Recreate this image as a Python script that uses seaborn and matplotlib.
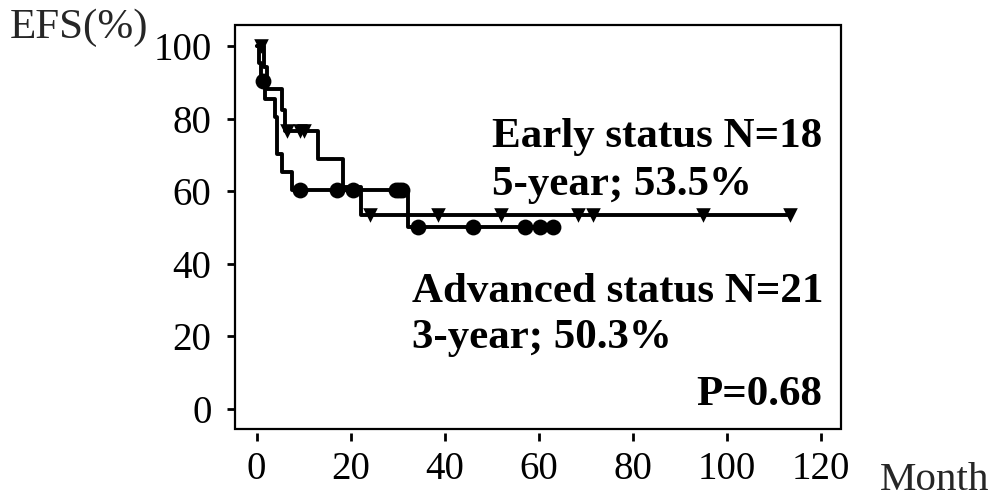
import numpy as np
import pandas as pd
import matplotlib
matplotlib.use("Agg")
import matplotlib.pyplot as plt
import seaborn as sns
from matplotlib.patches import Rectangle

# Follow-up in months: events (relapse/death) and censored observations
early_event_months = [1.5, 2.2, 5.4, 6.0, 13.0, 18.4, 22.3]
early_censor_months = [1.0, 6.5, 9.3, 10.0, 24.2, 38.5, 52.0, 68.3, 71.5, 95.0, 113.5]
adv_event_months = [0.5, 1.0, 1.8, 3.9, 4.3, 4.3, 5.4, 7.5, 32.2]
adv_censor_months = [1.3, 9.3, 17.0, 20.5, 29.6, 30.3, 31.0, 34.3, 46.1, 57.1, 60.3, 63.1]

x_ticks = [0, 20, 40, 60, 80, 100, 120]
y_ticks = [0, 20, 40, 60, 80, 100]

labels_early = ["Early status N=18", "5-year; 53.5%"]
labels_adv = ["Advanced status N=21", "3-year; 50.3%"]
p_label = "P=0.68"


def kaplan_meier(events, censors):
    """Return step-curve (time, survival %) and censor-mark positions."""
    events = np.asarray(events, float)
    censors = np.asarray(censors, float)
    times = np.unique(events)
    n_at_risk = len(events) + len(censors)
    surv = 1.0
    t_curve, s_curve = [0.0], [100.0]
    prev = 0.0
    for t in times:
        # subjects censored before this event leave the risk set
        n_at_risk -= np.sum((censors >= prev) & (censors < t))
        d = np.sum(events == t)
        surv *= (n_at_risk - d) / n_at_risk
        n_at_risk -= d
        prev = t
        t_curve.append(t)
        s_curve.append(surv * 100)
    last = max(censors.max(), events.max())
    t_curve.append(last)
    s_curve.append(s_curve[-1])
    curve = pd.DataFrame({"month": t_curve, "efs": s_curve})

    def value_at(t):
        idx = np.searchsorted(np.asarray(t_curve[:-1]), t, side="right") - 1
        return s_curve[idx]

    marks = pd.DataFrame({"month": censors, "efs": [value_at(c) for c in censors]})
    return curve, marks


early_curve, early_marks = kaplan_meier(early_event_months, early_censor_months)
adv_curve, adv_marks = kaplan_meier(adv_event_months, adv_censor_months)

sns.set_style("ticks")
plt.rcParams["font.family"] = ["Liberation Serif", "DejaVu Serif"]

W, H = 992, 500
fig = plt.figure(figsize=(W / 100, H / 100), dpi=100)
left, right, top, bottom = 235, 841, 25, 429
ax = fig.add_axes([left / W, 1 - bottom / H, (right - left) / W, (bottom - top) / H])

lw = 2.8
sns.lineplot(data=adv_curve, x="month", y="efs", ax=ax, color="black", lw=lw,
             drawstyle="steps-post", estimator=None, sort=True)
sns.lineplot(data=early_curve, x="month", y="efs", ax=ax, color="black", lw=lw,
             drawstyle="steps-post", estimator=None, sort=True)
sns.scatterplot(data=adv_marks, x="month", y="efs", ax=ax, color="black",
                marker="o", s=130, linewidth=0, zorder=5)
sns.scatterplot(data=early_marks, x="month", y="efs", ax=ax, color="black",
                marker="v", s=110, linewidth=0, zorder=5)

ax.set_xlim(-4.6, 124.3)
ax.set_ylim(-5.5, 105.8)
ax.set_xticks(x_ticks)
ax.set_yticks(y_ticks)
ax.set_xlabel("")
ax.set_ylabel("")

# frame drawn as a box; x ticks hang slightly below it
for name in ["top", "right", "left"]:
    ax.spines[name].set_visible(False)
ax.spines["bottom"].set_position(("outward", 3))
ax.spines["bottom"].set_color("none")
ax.add_patch(Rectangle((0, 0), 1, 1, transform=ax.transAxes, fill=False,
                       lw=1.6, ec="black", clip_on=False, zorder=6))

ax.tick_params(axis="both", direction="out", length=6, width=2, color="black",
               labelsize=28, labelcolor="black")
ax.tick_params(axis="x", pad=7)
ax.tick_params(axis="y", pad=11)

bold = dict(fontsize=31, fontweight="bold", color="black")
ax.text(50.1, 72.3, labels_early[0], ha="left", va="baseline", **bold)
ax.text(50.1, 59.1, labels_early[1], ha="left", va="baseline", **bold)
ax.text(33.0, 29.5, labels_adv[0], ha="left", va="baseline", **bold)
ax.text(33.0, 16.8, labels_adv[1], ha="left", va="baseline", **bold)
ax.text(120.3, 1.0, p_label, ha="right", va="baseline", **bold)

fig.text(10 / W, 1 - 38 / H, "EFS(%)", fontsize=31, ha="left", va="baseline")
fig.text(880 / W, 1 - 490 / H, "Month", fontsize=29.5, ha="left", va="baseline")

fig.savefig("out.png", dpi=100, facecolor="white")
